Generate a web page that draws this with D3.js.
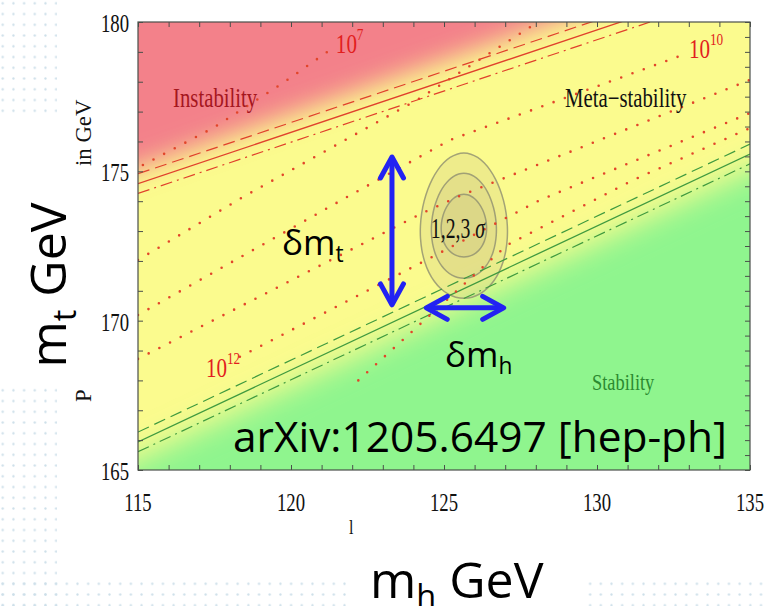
<!DOCTYPE html>
<html>
<head>
<meta charset="utf-8">
<script src="https://cdn.jsdelivr.net/npm/d3@7"></script>
<style>
  body { margin: 0; background: #fff; }
  svg { display: block; }
</style>
</head>
<body>
<script>
// values: mh (GeV) on x, mt (GeV) on y
const mhDomain = [115, 135];
const mtDomain = [165, 180];
const mhTicks = [115, 120, 125, 130, 135];
const mtTicks = [165, 170, 175, 180];

// boundary lines, [mh, mt]
const instabLine = [[115, 174.59], [135, 181.45]];
const stabLine = [[115, 165.94], [135, 175.58]];
const alphaShift = 0.33;

// where the colour zones fade into each other
const instabEdge = [[115, 175.1], [135, 182.3]];
const stabEdge = [[115, 165.4], [135, 175.05]];

// dotted contours of the instability scale
const scaleLines = [
  [[115.16, 175.21], [117.45, 176.45], [119.74, 177.96], [121.27, 179.06]],
  [[115, 172.03], [118.43, 174.14], [124.12, 177.39], [127.16, 179.4], [128.07, 180]],
  [[115, 170.19], [121.83, 174.14], [125.2, 176.05], [132.81, 178.9]],
  [[115, 168.72], [124.31, 173.61], [125.52, 174.18], [135, 178.06]],
  [[118.33, 168.79], [124.31, 171.97], [128.14, 174.04], [135, 176.95]],
  [[122.2, 168.0], [127.06, 172.53], [131.18, 174.71], [135, 176.45]]
];
const scaleLabels = [
  { line: 0, end: 'last', exp: '7' },
  { line: 2, end: 'last', exp: '10' },
  { line: 4, end: 'first', exp: '12' }
];

// 1,2,3 sigma region
const fitCenter = [125.65, 173.18];
const sigmaMh = [0.74, 1.06, 1.42];
const sigmaMt = [1.05, 1.76, 2.43];

// the two uncertainty arrows
const dMtArrow = { mh: 123.3, mt: [170.53, 175.48] };
const dMhArrow = { mt: 170.43, mh: [124.42, 126.95] };

const W = 767, H = 606;
const serif = 'Liberation Serif, Times New Roman, serif';
const sans = 'Open Sans, Noto Sans, sans-serif';

const svg = d3.select('body').append('svg')
  .attr('width', W)
  .attr('height', H);

const x = d3.scaleLinear().domain(mhDomain).range([138, 750]);
const y = d3.scaleLinear().domain(mtDomain).range([470, 22]);

const defs = svg.append('defs');

// slide background dots
const pat = defs.append('pattern')
  .attr('id', 'dots')
  .attr('patternUnits', 'userSpaceOnUse')
  .attr('x', -2.6).attr('y', -2.1)
  .attr('width', 10.68).attr('height', 10.75);
pat.append('circle')
  .attr('cx', 5.34).attr('cy', 5.4).attr('r', 1.15)
  .attr('fill', '#cddfe9');

svg.append('rect').attr('width', W).attr('height', H).attr('fill', '#fff');
svg.append('rect').attr('x', 0).attr('y', 0).attr('width', 57).attr('height', H).attr('fill', 'url(#dots)');
svg.append('rect').attr('x', 0).attr('y', 578).attr('width', W).attr('height', 28).attr('fill', 'url(#dots)');
// white boxes behind the big axis titles
svg.append('rect').attr('x', 0).attr('y', 114).attr('width', 57).attr('height', 270).attr('fill', '#fff');
svg.append('rect').attr('x', 351).attr('y', 560).attr('width', 230).attr('height', 46).attr('fill', '#fff');

defs.append('clipPath').attr('id', 'plotClip')
  .append('rect')
  .attr('x', x(115)).attr('y', y(180))
  .attr('width', x(135) - x(115)).attr('height', y(165) - y(180));

function blur(id, sd) {
  defs.append('filter').attr('id', id)
    .attr('filterUnits', 'userSpaceOnUse')
    .attr('x', 0).attr('y', 0).attr('width', W).attr('height', H)
    .append('feGaussianBlur').attr('stdDeviation', sd);
}
blur('blurRed', 13);
blur('blurGreen', 15);

function lineAt(pts) {
  const [[a0, b0], [a1, b1]] = pts;
  return m => b0 + (b1 - b0) * (m - a0) / (a1 - a0);
}

const plot = svg.append('g').attr('clip-path', 'url(#plotClip)');

plot.append('rect')
  .attr('x', x(115)).attr('y', y(180))
  .attr('width', x(135) - x(115)).attr('height', y(165) - y(180))
  .attr('fill', '#fbfb8e');

const redAt = lineAt(instabEdge);
plot.append('path')
  .attr('d', d3.line()([
    [x(105), y(redAt(105))], [x(145), y(redAt(145))],
    [x(145), y(200)], [x(105), y(200)]
  ]) + 'Z')
  .attr('fill', '#f3818a')
  .attr('filter', 'url(#blurRed)');

const greenAt = lineAt(stabEdge);
plot.append('path')
  .attr('d', d3.line()([
    [x(105), y(greenAt(105))], [x(145), y(greenAt(145))],
    [x(145), y(150)], [x(105), y(150)]
  ]) + 'Z')
  .attr('fill', '#8ff58e')
  .attr('filter', 'url(#blurGreen)');

// sigma regions, slightly egg shaped (wider towards low mt)
const egg = d3.line().curve(d3.curveCardinalClosed);
plot.selectAll('path.sig')
  .data(d3.range(sigmaMh.length).reverse())
  .enter()
  .append('path')
  .attr('class', 'sig')
  .attr('d', i => {
    const cx = x(fitCenter[0]), cy = y(fitCenter[1]);
    const rx = x(fitCenter[0] + sigmaMh[i]) - cx;
    const ry = cy - y(fitCenter[1] + sigmaMt[i]);
    return egg(d3.range(0, 2 * Math.PI, Math.PI / 18).map(t => {
      const s = Math.sin(t);
      return [cx + rx * Math.cos(t) * (1 + 0.08 * s), cy + ry * s];
    }));
  })
  .attr('fill', 'rgba(190,180,130,0.2)')
  .attr('stroke', '#8e8e70')
  .attr('stroke-width', 1.5)
  .attr('stroke-opacity', 0.8);

const line = d3.line().x(d => x(d[0])).y(d => y(d[1]));

// boundary lines with their alpha_s companions
function boundary(pts, color) {
  const shifted = s => pts.map(p => [p[0], p[1] + s]);
  plot.append('path').attr('d', line(shifted(alphaShift)))
    .attr('fill', 'none').attr('stroke', color).attr('stroke-width', 1.2)
    .attr('stroke-dasharray', '12 6');
  plot.append('path').attr('d', line(pts))
    .attr('fill', 'none').attr('stroke', color).attr('stroke-width', 1.3);
  plot.append('path').attr('d', line(shifted(-alphaShift)))
    .attr('fill', 'none').attr('stroke', color).attr('stroke-width', 1.2)
    .attr('stroke-dasharray', '12 5 2 5');
}
boundary(instabLine, '#e0402c');
boundary(stabLine, '#3f9a3f');

plot.selectAll('path.scale')
  .data(scaleLines)
  .enter()
  .append('path')
  .attr('class', 'scale')
  .attr('d', line)
  .attr('fill', 'none')
  .attr('stroke', '#e2452a')
  .attr('stroke-width', 2.6)
  .attr('stroke-linecap', 'round')
  .attr('stroke-dasharray', '0 12');

// squeezed Times-like text, as in the scanned figure
function squeezed(parent, px, py, str, size, opts = {}) {
  const g = parent.append('g')
    .attr('transform', `translate(${px},${py}) rotate(${opts.rot || 0}) scale(${opts.sx || 0.72},1)`);
  return g.append('text')
    .attr('text-anchor', opts.anchor || 'start')
    .attr('font-family', serif)
    .attr('font-size', size)
    .attr('fill', opts.fill || '#111')
    .text(str);
}

scaleLabels.forEach(l => {
  const pts = scaleLines[l.line];
  const p = l.end === 'last' ? pts[pts.length - 1] : pts[0];
  const px = x(p[0]) + (l.end === 'last' ? 6 : -34);
  const py = y(p[1]) + (l.end === 'last' ? 3 : 20);
  squeezed(plot, px, py, '10', 27, { fill: '#e21e1e', sx: 0.78 });
  squeezed(plot, px + 21, py - 13, l.exp, 17, { fill: '#e21e1e', sx: 0.78 });
});

squeezed(plot, 173, 107, 'Instability', 27, { fill: '#a5161e', sx: 0.77 });
squeezed(plot, 565, 107, 'Meta\u2212stability', 27, { fill: '#111', sx: 0.77 });
squeezed(plot, 592, 390, 'Stability', 23, { fill: '#2b8a30', sx: 0.8 });

const sigText = squeezed(plot, x(fitCenter[0]) - 6, y(fitCenter[1]) + 12, '1,2,3 ', 29, { anchor: 'middle', sx: 0.68 });
sigText.append('tspan').attr('font-style', 'italic').text('\u03c3');

// frame and inward ticks
const frame = svg.append('g');
frame.append('rect')
  .attr('x', x(115)).attr('y', y(180))
  .attr('width', x(135) - x(115)).attr('height', y(165) - y(180))
  .attr('fill', 'none').attr('stroke', '#4a4f4a').attr('stroke-width', 1.2);

const tickStyle = g => {
  g.select('.domain').remove();
  g.selectAll('line').attr('stroke', '#4a4f4a').attr('stroke-width', 1);
  g.selectAll('text').remove();
};
frame.append('g').attr('transform', `translate(0,${y(165)})`)
  .call(d3.axisBottom(x).tickValues(d3.range(115, 136)).tickSize(-5).tickSizeOuter(0))
  .call(tickStyle);
frame.append('g').attr('transform', `translate(0,${y(180)})`)
  .call(d3.axisTop(x).tickValues(d3.range(115, 136)).tickSize(-5).tickSizeOuter(0))
  .call(tickStyle);
frame.append('g').attr('transform', `translate(${x(115)},0)`)
  .call(d3.axisLeft(y).tickValues(d3.range(165, 181)).tickSize(-5).tickSizeOuter(0))
  .call(tickStyle);
frame.append('g').attr('transform', `translate(${x(135)},0)`)
  .call(d3.axisRight(y).tickValues(d3.range(165, 180.1, 0.5)).tickSize(-5).tickSizeOuter(0))
  .call(tickStyle);

mhTicks.forEach(v => squeezed(svg, x(v), 511, String(v), 26, { anchor: 'middle' }));
mtTicks.forEach(v => squeezed(svg, 129, y(v) + 10, String(v), 26, { anchor: 'end' }));

// left-over pieces of the original axis titles
squeezed(svg, 91, 166, 'in GeV', 24, { sx: 0.95, rot: -90 });
squeezed(svg, 91, 402, 'P', 24, { sx: 0.95, rot: -90 });
squeezed(svg, 349, 534, 'l', 20, { sx: 0.8 });

// blue arrows
const arrows = svg.append('g')
  .attr('stroke', '#2222f2').attr('stroke-width', 5)
  .attr('fill', 'none').attr('stroke-linecap', 'round').attr('stroke-linejoin', 'round');

function head(tx, ty, dx, dy) {
  const L = 21, Hw = 11.5;
  const bx = tx - dx * L, by = ty - dy * L;
  const nx = -dy, ny = dx;
  arrows.append('path')
    .attr('d', `M${bx + nx * Hw},${by + ny * Hw}L${tx},${ty}L${bx - nx * Hw},${by - ny * Hw}`);
}
const ax = x(dMtArrow.mh);
arrows.append('line')
  .attr('x1', ax).attr('x2', ax)
  .attr('y1', y(dMtArrow.mt[1]) + 2).attr('y2', y(dMtArrow.mt[0]) - 2);
head(ax, y(dMtArrow.mt[1]), 0, -1);
head(ax, y(dMtArrow.mt[0]), 0, 1);

const ay = y(dMhArrow.mt);
arrows.append('line')
  .attr('x1', x(dMhArrow.mh[0]) + 2).attr('x2', x(dMhArrow.mh[1]) - 2)
  .attr('y1', ay).attr('y2', ay);
head(x(dMhArrow.mh[0]), ay, -1, 0);
head(x(dMhArrow.mh[1]), ay, 1, 0);

// slide annotations
function subLabel(px, py, main, sub, size, extra) {
  const t = svg.append('text')
    .attr('x', px).attr('y', py)
    .attr('font-family', sans)
    .attr('font-size', size)
    .attr('fill', '#000');
  t.append('tspan').text(main);
  t.append('tspan').attr('font-size', size * 0.65).attr('dy', size * 0.2).text(sub);
  if (extra) t.append('tspan').attr('dy', -size * 0.2).text(extra);
  return t;
}
subLabel(282, 255, '\u03b4m', 't', 35);
subLabel(445, 367, '\u03b4m', 'h', 35);

svg.append('text')
  .attr('x', 233).attr('y', 452)
  .attr('font-family', sans)
  .attr('font-size', 42)
  .attr('textLength', 494)
  .attr('lengthAdjust', 'spacingAndGlyphs')
  .text('arXiv:1205.6497 [hep-ph]');

subLabel(370, 598, 'm', 'h', 50, ' GeV');
subLabel(0, 0, 'm', 't', 50, ' GeV')
  .attr('text-anchor', 'middle')
  .attr('transform', 'translate(66,285) rotate(-90)');
</script>
</body>
</html>
